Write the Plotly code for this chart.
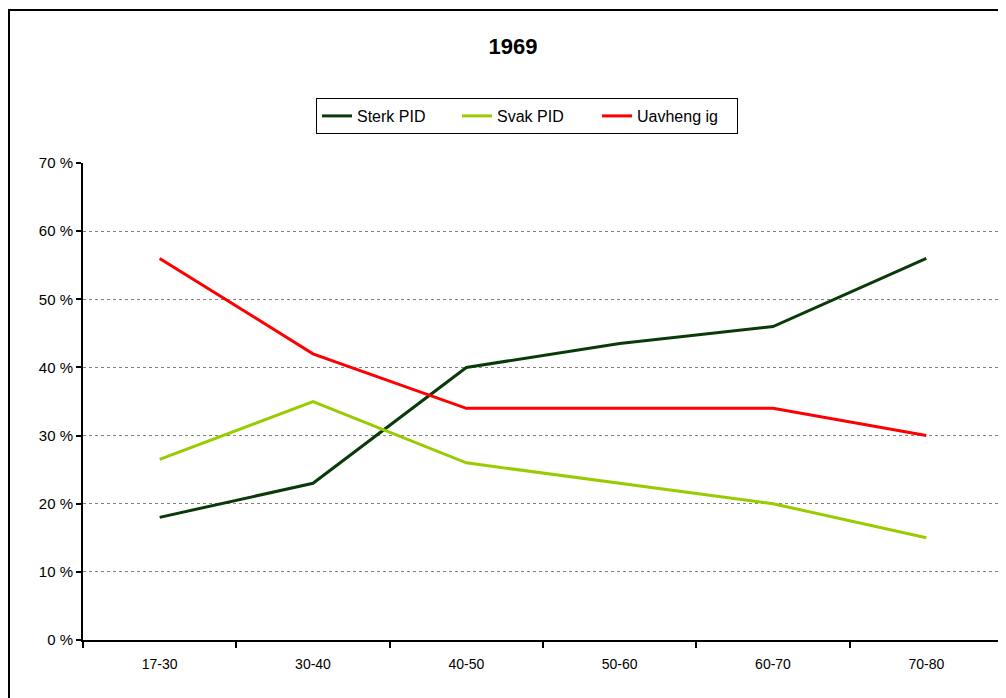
import plotly.graph_objects as go

categories = ["17-30", "30-40", "40-50", "50-60", "60-70", "70-80"]
sterk_pid = [18, 23, 40, 43.5, 46, 56]
svak_pid = [26.5, 35, 26, 23, 20, 15]
uavhengig = [56, 42, 34, 34, 34, 30]
series_names = ["Sterk PID", "Svak PID", "Uavheng ig"]
colors = ["#0A3A0A", "#99CC00", "#FF0000"]

fig = go.Figure()
for name, vals, col in zip(series_names, [sterk_pid, svak_pid, uavhengig], colors):
    fig.add_trace(go.Scatter(x=categories, y=vals, mode="lines", name=name,
                             line=dict(color=col, width=3)))

font_main = "Liberation Sans, Arial, sans-serif"
W, H = 998, 690
L, R, T, B = 75, 3, 155, 58
pw, ph = W - L - R, H - T - B
fig.update_layout(
    width=W, height=H,
    margin=dict(l=L, r=R, t=T, b=B),
    paper_bgcolor="white", plot_bgcolor="white",
    title=dict(text="<b>1969</b>", x=505 / W, xanchor="center", y=1 - 38 / H, yanchor="middle",
               font=dict(family=font_main, size=22, color="black")),
    font=dict(family=font_main, size=15, color="black"),
    legend=dict(orientation="h", x=(519 - L) / pw, xanchor="center", y=(T + ph - 108) / ph,
                yanchor="middle", bordercolor="black", borderwidth=1, bgcolor="white",
                font=dict(size=16), entrywidth=95, tracegroupgap=0),
    showlegend=True,
    xaxis=dict(type="category", range=[-0.5, 5.5], showline=True, linecolor="black", linewidth=2,
               ticks="outside", tickson="boundaries", ticklen=6, tickwidth=2, tickcolor="black",
               showgrid=False, tickfont=dict(size=14), ticklabelstandoff=10),
    yaxis=dict(range=[0, 70], dtick=10, ticksuffix=" %", showline=True, linecolor="black",
               linewidth=2, ticks="outside", ticklen=5, tickwidth=2, tickcolor="black",
               showgrid=True, gridcolor="#808080", griddash="dot", gridwidth=1,
               zeroline=False, tickfont=dict(size=15)),
)

# outer chart border (extends beyond the visible window at right and bottom)
fig.add_shape(type="rect", xref="paper", yref="paper",
              x0=(1 - L) / pw, x1=1.05, y0=-0.3, y1=(T + ph - 2) / ph,
              line=dict(color="black", width=2), layer="below")

fig.write_html("out.html")
